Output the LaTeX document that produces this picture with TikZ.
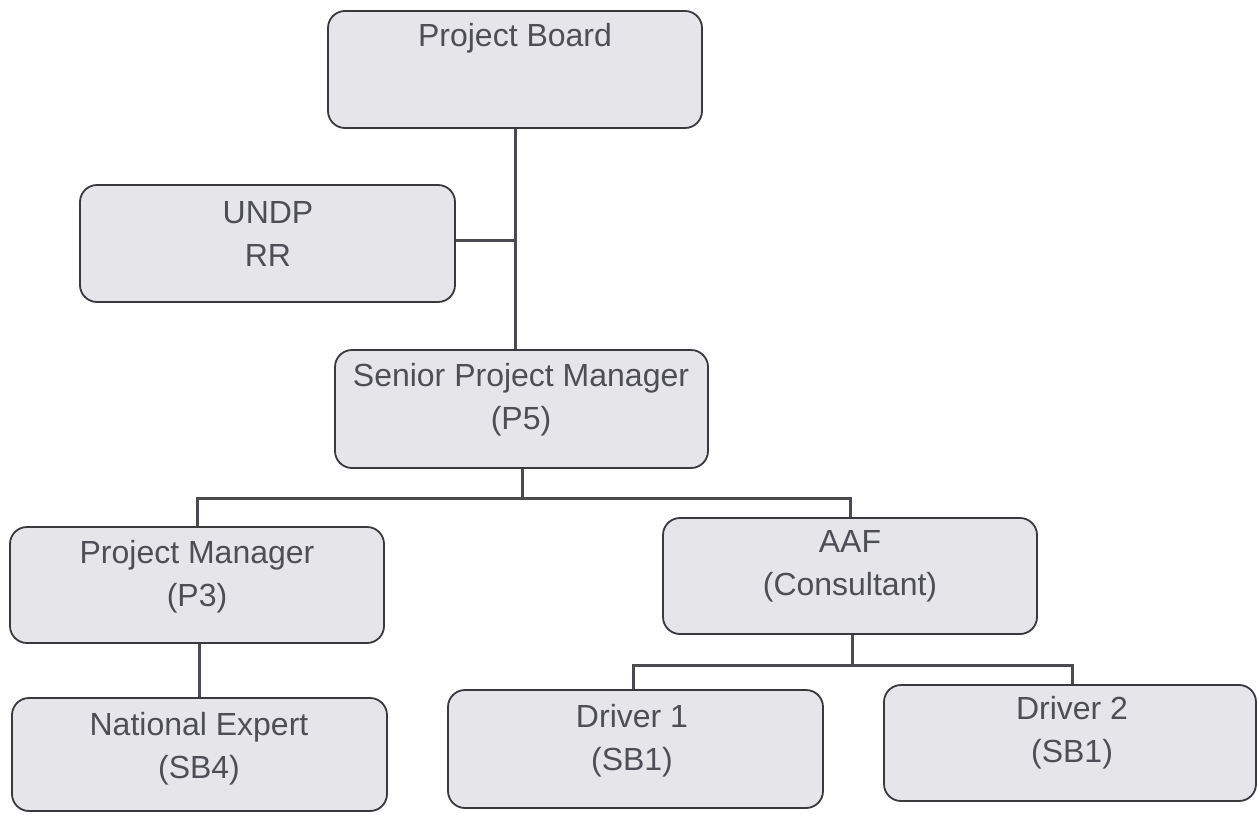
\documentclass[tikz,border=0pt]{standalone}
\usepackage{fontspec}
\setmainfont{Liberation Sans}
\definecolor{boxfill}{HTML}{E6E6EA}
\definecolor{boxline}{HTML}{3A3A3E}
\definecolor{txt}{HTML}{4E4E56}
\definecolor{conn}{HTML}{4A4A50}
\begin{document}
\begin{tikzpicture}[x=1pt,y=-1pt,
  box/.style={draw=boxline,fill=boxfill,line width=1.8pt,rounded corners=17pt,inner sep=0pt},
  lbl/.style={text=txt,font=\fontsize{32}{43}\selectfont,align=center,inner sep=0pt},
  conn/.style={draw=conn,line width=3pt}]
\useasboundingbox (0,0) rectangle (1258,814);
\fill[white] (0,0) rectangle (1258,814);
\newcommand{\orgbox}[5]{\node[box,minimum width=#4-#2,minimum height=#5-#3] (#1) at ({(#2+#4)/2},{(#3+#5)/2}) {};}
\orgbox{pb}{328}{11}{702}{128}
\orgbox{undp}{80}{185}{455}{302}
\orgbox{spm}{335}{350}{708}{468}
\orgbox{pm}{10}{527}{384}{643}
\orgbox{aaf}{663}{518}{1037}{634}
\orgbox{ne}{12}{698}{387}{811}
\orgbox{da}{448}{690}{823}{808}
\orgbox{db}{884}{685}{1256}{801}
% junction coordinates
\coordinate (j1) at (515,240);
\coordinate (j2) at (522,498);
\coordinate (j2l) at (197,498);
\coordinate (j2r) at (850,498);
\coordinate (j3) at (852,665);
\coordinate (j3l) at (633,665);
\coordinate (j3r) at (1072,665);
\coordinate (xne) at (199,0);
% connectors
\draw[conn] (pb.south -| j1) -- (spm.north -| j1);
\draw[conn] (undp.east |- j1) -- (j1);
\draw[conn] (spm.south -| j2) -- (j2);
\draw[conn] (pm.north -| j2l) -- (j2l) -- (j2r) -- (aaf.north -| j2r);
\draw[conn] (aaf.south -| j3) -- (j3);
\draw[conn] (da.north -| j3l) -- (j3l) -- (j3r) -- (db.north -| j3r);
\draw[conn] (pm.south -| xne) -- (ne.north -| xne);
% texts
\node[lbl] (tpb) at (515,38) {Project Board};
\node[lbl] (tundp) at (268,234) {UNDP\\RR};
\node[lbl] (tspm) at (521,400) {Senior Project Manager\\(P5)};
\node[lbl] (tpm) at (197,577) {Project Manager\\(P3)};
\node[lbl] (taaf) at (850,566) {AAF\\(Consultant)};
\node[lbl] (tne) at (199,749) {National Expert\\(SB4)};
\node[lbl] (tda) at (632,741) {Driver 1\\(SB1)};
\node[lbl] (tdb) at (1072,733) {Driver 2\\(SB1)};
\end{tikzpicture}
\end{document}
